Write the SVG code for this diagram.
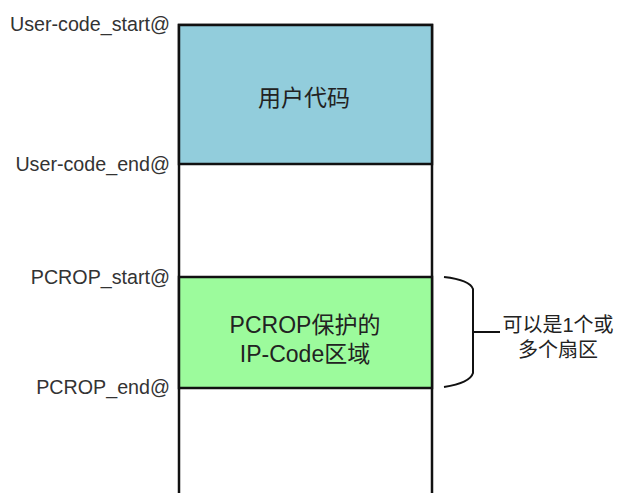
<svg xmlns="http://www.w3.org/2000/svg" width="617" height="493" viewBox="0 0 617 493">
<style>
.lbl{font-family:"Liberation Sans","Noto Sans CJK SC",sans-serif;font-size:19.7px;fill:#333;text-anchor:end}
.ctr{font-family:"Liberation Sans","Noto Sans CJK SC",sans-serif;font-size:23px;fill:#222;text-anchor:middle}
.side{font-family:"Liberation Sans","Noto Sans CJK SC",sans-serif;font-size:20px;fill:#222;text-anchor:middle}
.edge{fill:none;stroke:#111;stroke-width:2}
</style>
<rect width="617" height="493" fill="#fff"/>
<g id="memory">
<rect x="179" y="25" width="253" height="480" fill="#fff" stroke="#111" stroke-width="2.5"/>
</g>
<g id="user-code">
<rect x="179" y="25" width="253" height="139" fill="#92CDDC" stroke="#111" stroke-width="2.5"/>
<text class="ctr" x="304" y="106">用户代码</text>
</g>
<g id="pcrop">
<rect x="179" y="277" width="253" height="111" fill="#9CFB9C" stroke="#111" stroke-width="2.5"/>
<text class="ctr" x="305" y="333">PCROP保护的</text>
<text class="ctr" x="305" y="362">IP-Code区域</text>
</g>
<g id="labels">
<text class="lbl" x="170" y="31">User-code_start@</text>
<text class="lbl" x="170" y="171">User-code_end@</text>
<text class="lbl" x="170" y="284">PCROP_start@</text>
<text class="lbl" x="170" y="394">PCROP_end@</text>
</g>
<g id="connectors">
<path class="edge" d="M444,277 Q470,280 473,289 L473,373 Q470,383 444,387 M473,332 L500,332"/>
</g>
<g id="note">
<text class="side" x="558" y="332">可以是1个或</text>
<text class="side" x="558" y="357">多个扇区</text>
</g>
</svg>
